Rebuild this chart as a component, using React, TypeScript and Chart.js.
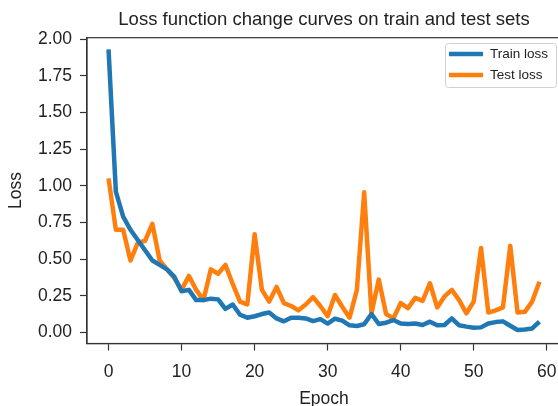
import React, { useEffect, useRef } from "react";
import { Chart, registerables } from "chart.js";

Chart.register(...registerables);

const epochs: number[] = Array.from({ length: 60 }, (_, i) => i);
const trainLoss: number[] = [
  1.93, 0.96, 0.79, 0.70, 0.63, 0.56, 0.49, 0.46, 0.43, 0.38,
  0.28, 0.29, 0.22, 0.22, 0.23, 0.225, 0.16, 0.19, 0.12, 0.10,
  0.11, 0.125, 0.135, 0.095, 0.075, 0.10, 0.10, 0.095, 0.077, 0.09,
  0.06, 0.093, 0.08, 0.048, 0.043, 0.055, 0.125, 0.057, 0.066, 0.084,
  0.06, 0.057, 0.06, 0.05, 0.073, 0.048, 0.05, 0.095, 0.048, 0.039,
  0.032, 0.034, 0.06, 0.07, 0.075, 0.045, 0.016, 0.02, 0.027, 0.073,
];
const testLoss: number[] = [
  1.05, 0.70, 0.70, 0.49, 0.61, 0.625, 0.74, 0.49, 0.43, 0.37,
  0.29, 0.385, 0.29, 0.22, 0.43, 0.40, 0.46, 0.33, 0.21, 0.19,
  0.67, 0.29, 0.21, 0.31, 0.20, 0.18, 0.15, 0.19, 0.24, 0.18,
  0.11, 0.255, 0.175, 0.10, 0.29, 0.955, 0.13, 0.36, 0.125, 0.095,
  0.20, 0.165, 0.235, 0.215, 0.335, 0.17, 0.245, 0.29, 0.22, 0.13,
  0.21, 0.575, 0.135, 0.15, 0.17, 0.59, 0.135, 0.14, 0.21, 0.345,
];
const seriesNames: string[] = ["Train loss", "Test loss"];
const seriesColors: string[] = ["#1f77b4", "#ff7f0e"];
const xTicks: number[] = [0, 10, 20, 30, 40, 50, 60];
const yTicks: number[] = [0, 0.25, 0.5, 0.75, 1.0, 1.25, 1.5, 1.75, 2.0];

const FONT = "'Liberation Sans', Arial, Helvetica, sans-serif";
const TEXT = "#222222";
const AXIS = "#333333";

const boxPlugin = {
  id: "boxAndLegend",
  afterDraw(chart: any) {
    const { ctx, chartArea } = chart;
    const { left, top, right, bottom } = chartArea;
    ctx.save();
    ctx.strokeStyle = AXIS;
    ctx.lineWidth = 1.2;
    ctx.strokeRect(left, top, right - left, bottom - top);
    // legend inside upper right
    const bx = 445.5, by = 43.5, bw = 111, bh = 44;
    ctx.fillStyle = "rgba(255,255,255,0.8)";
    ctx.strokeStyle = "#d0d0d0";
    ctx.lineWidth = 1;
    ctx.beginPath();
    (ctx as any).roundRect(bx, by, bw, bh, 3);
    ctx.fill();
    ctx.stroke();
    ctx.font = `13.5px ${FONT}`;
    ctx.textBaseline = "middle";
    ctx.textAlign = "left";
    seriesNames.forEach((name, i) => {
      const y = 54 + i * 21;
      ctx.strokeStyle = seriesColors[i];
      ctx.lineWidth = 4.5;
      ctx.beginPath();
      ctx.moveTo(449, y);
      ctx.lineTo(483, y);
      ctx.stroke();
      ctx.fillStyle = TEXT;
      ctx.fillText(name, 490, y);
    });
    ctx.restore();
  },
};

export default function App() {
  const ref = useRef<HTMLCanvasElement | null>(null);
  useEffect(() => {
    if (!ref.current) return;
    const chart = new Chart(ref.current, {
      type: "line",
      data: {
        datasets: [
          {
            label: seriesNames[0],
            data: epochs.map((e, i) => ({ x: e, y: trainLoss[i] })),
            borderColor: seriesColors[0],
            backgroundColor: seriesColors[0],
            borderWidth: 4.5,
            pointRadius: 0,
            tension: 0,
            borderJoinStyle: "round",
          },
          {
            label: seriesNames[1],
            data: epochs.map((e, i) => ({ x: e, y: testLoss[i] })),
            borderColor: seriesColors[1],
            backgroundColor: seriesColors[1],
            borderWidth: 4.5,
            pointRadius: 0,
            tension: 0,
            borderJoinStyle: "round",
          },
        ],
      },
      plugins: [boxPlugin],
      options: {
        responsive: false,
        animation: false,
        layout: { padding: { left: 0, right: 11, top: 0, bottom: 0 } },
        plugins: {
          legend: { display: false },
          tooltip: { enabled: false },
          title: {
            display: true,
            fullSize: false,
            text: "Loss function change curves on train and test sets",
            color: TEXT,
            font: { family: FONT, size: 18.5, weight: "normal", lineHeight: 1.2 },
            padding: { top: 9, bottom: 6.5 },
          },
        },
        scales: {
          x: {
            type: "linear",
            min: -2.95,
            max: 61.95,
            afterFit: (s: any) => { s.height = 62.5; },
            afterBuildTicks: (s: any) => { s.ticks = xTicks.map((v) => ({ value: v })); },
            ticks: {
              color: TEXT,
              font: { family: FONT, size: 17.5 },
              padding: 11,
              maxRotation: 0,
              callback: (v: any) => String(v),
            },
            grid: { drawOnChartArea: false, drawTicks: true, tickLength: 7, tickColor: AXIS, tickWidth: 1.2 },
            border: { display: true, color: AXIS, width: 1.2 },
            title: {
              display: true,
              text: "Epoch",
              color: TEXT,
              font: { family: FONT, size: 17.5, lineHeight: 1 },
              padding: { top: 0, bottom: -1.5 },
            },
          },
          y: {
            type: "linear",
            min: -0.076,
            max: 2.01,
            afterFit: (s: any) => { s.width = 87; },
            afterBuildTicks: (s: any) => { s.ticks = yTicks.map((v) => ({ value: v })); },
            ticks: {
              color: TEXT,
              font: { family: FONT, size: 17.5 },
              padding: 8,
              callback: (v: any) => Number(v).toFixed(2),
            },
            grid: { drawOnChartArea: false, drawTicks: true, tickLength: 7, tickColor: AXIS, tickWidth: 1.2 },
            border: { display: true, color: AXIS, width: 1.2 },
            title: {
              display: true,
              text: "Loss",
              color: TEXT,
              font: { family: FONT, size: 17.5, lineHeight: 1.2 },
              padding: { top: 6, bottom: 0 },
            },
          },
        },
      },
    });
    return () => chart.destroy();
  }, []);
  return (
    <div style={{ position: "fixed", left: 0, top: 0, width: 558, height: 406, overflow: "hidden", background: "#fff" }}>
      <canvas ref={ref} width={572} height={406} style={{ display: "block" }} />
    </div>
  );
}
